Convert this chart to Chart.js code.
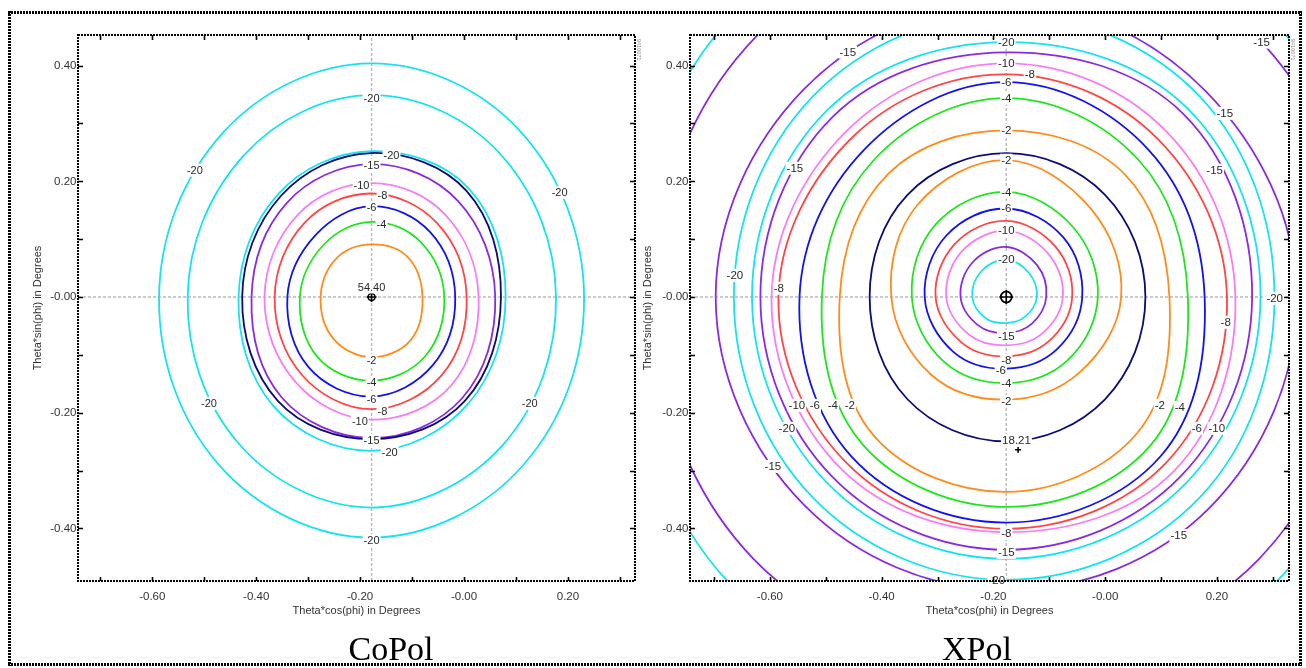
<!DOCTYPE html>
<html lang="en">
<head>
<meta charset="UTF-8">
<title>CoPol / XPol contours</title>
<script src="https://cdn.jsdelivr.net/npm/chart.js"></script>
<style>
  html, body { margin: 0; padding: 0; background: #fff; overflow: hidden; }
  #wrap { position: relative; width: 1306px; height: 668px; }
  canvas { position: absolute; left: 0; top: 0; }
  .edge { position: absolute; }
  .h { height: 3px; background: repeating-linear-gradient(90deg, #000 0 2px, transparent 2px 3px); }
  .v { width: 3px; background: repeating-linear-gradient(180deg, #000 0 2px, transparent 2px 3px); }
  .cap { position: absolute; top: 632px; line-height: 34px; font-family: 'Liberation Serif', 'Times New Roman', serif;
         font-size: 34px; color: #000; transform: translateX(-50%); white-space: nowrap; }
</style>
</head>
<body>
<div id="wrap">
  <div class="edge h" style="left:8px;top:11px;width:1294px"></div>
  <div class="edge h" style="left:8px;top:663px;width:1294px"></div>
  <div class="edge v" style="left:8px;top:11px;height:655px"></div>
  <div class="edge v" style="left:1299px;top:11px;height:655px"></div>
  <canvas id="co" width="1306" height="668"></canvas>
  <canvas id="xp" width="1306" height="668"></canvas>
  <div class="cap" style="left:391px">CoPol</div>
  <div class="cap" style="left:977px">XPol</div>
</div>
<script>
  const FONT = "'Liberation Sans', Arial, sans-serif";

  // axes
  const xMin = -0.743, xMax = 0.329, yMin = -0.491, yMax = 0.453;
  const xTicks = [-0.7, -0.6, -0.5, -0.4, -0.3, -0.2, -0.1, 0, 0.1, 0.2, 0.3];
  const xTickLabels = [-0.6, -0.4, -0.2, 0, 0.2];
  const yTicks = [-0.4, -0.3, -0.2, -0.1, 0, 0.1, 0.2, 0.3, 0.4];
  const yTickLabels = [-0.4, -0.2, 0, 0.2, 0.4];
  const plotTag = '9410071';

  // contour radii (deg) read at these directions around the beam centre
  const angles = [0, 45, 90, 135, 180, 225, 270, 315];

  // CoPol
  const coCenter = [-0.178, 0];
  const coM20a = [0.409, 0.405, 0.404, 0.403, 0.409, 0.413, 0.416, 0.412];
  const coM20b = [0.355, 0.35, 0.349, 0.347, 0.354, 0.36, 0.364, 0.3595];
  const coM20c = [0.258, 0.265, 0.252, 0.253, 0.256, 0.267, 0.266, 0.262];
  const coPk = [0.249, 0.259, 0.249, 0.247, 0.249, 0.2546, 0.2457, 0.254];
  const coM15 = [0.238, 0.235, 0.2296, 0.2304, 0.231, 0.245, 0.244, 0.247];
  const coM10 = [0.206, 0.201, 0.197, 0.201, 0.206, 0.2073, 0.212, 0.2165];
  const coM8 = [0.183, 0.1795, 0.179, 0.182, 0.1865, 0.19, 0.194, 0.191];
  const coM6 = [0.161, 0.159, 0.157, 0.152, 0.162, 0.1716, 0.172, 0.1667];
  const coM4 = [0.14, 0.134, 0.13, 0.129, 0.138, 0.147, 0.1447, 0.1455];
  const coM2 = [0.098, 0.098, 0.091, 0.095, 0.098, 0.103, 0.104, 0.106];
  const coPeak = 54.40;

  const coLabelX = [-0.178, -0.518, 0.184, -0.491, 0.1264, -0.1396, -0.178, -0.1973, -0.157, -0.178, -0.159,
                    -0.178, -0.178, -0.178, -0.157, -0.2006, -0.178, -0.143, -0.178];
  const coLabelY = [0.3438, 0.2192, 0.181, -0.1838, -0.1838, 0.2452, 0.2279, 0.1933, 0.176, 0.1547, 0.1258,
                    -0.1093, -0.1486, -0.1765, -0.1978, -0.2145, -0.2479, -0.2682, -0.4215];
  const coLabelText = ['-20', '-20', '-20', '-20', '-20', '-20', '-15', '-10', '-8', '-6', '-4',
                       '-2', '-4', '-6', '-8', '-10', '-15', '-20', '-20'];

  // XPol
  const xpCenter = [-0.177, 0];
  const xpM20i = [0.0547, 0.058, 0.0647, 0.063, 0.0608, 0.052, 0.045, 0.048];
  const xpM15i = [0.0716, 0.078, 0.0865, 0.085, 0.0818, 0.07, 0.0623, 0.065];
  const xpM10i = [0.1013, 0.106, 0.1142, 0.112, 0.1073, 0.093, 0.0836, 0.09];
  const xpM8i = [0.118, 0.124, 0.1315, 0.13, 0.1265, 0.112, 0.1026, 0.108];
  const xpM6i = [0.136, 0.145, 0.153, 0.151, 0.146, 0.134, 0.1239, 0.128];
  const xpM4i = [0.1639, 0.17, 0.1817, 0.178, 0.169, 0.158, 0.1488, 0.155];
  const xpM2i = [0.2057, 0.215, 0.2365, 0.225, 0.2057, 0.19, 0.1775, 0.185];
  const xpPk = [0.249, 0.25, 0.2486, 0.25, 0.2445, 0.25, 0.2497, 0.25];
  const xpM2o = [0.292, 0.3, 0.288, 0.3, 0.298, 0.337, 0.337, 0.332];
  const xpM4o = [0.325, 0.335, 0.344, 0.335, 0.33, 0.362, 0.363, 0.364];
  const xpM6o = [0.355, 0.36, 0.3715, 0.36, 0.37, 0.391, 0.39, 0.39];
  const xpM8o = [0.395, 0.385, 0.385, 0.39, 0.4077, 0.405, 0.4007, 0.405];
  const xpM10o = [0.41, 0.405, 0.404, 0.405, 0.42, 0.419, 0.4066, 0.425];
  const xpM15a = [0.44, 0.448, 0.423, 0.44, 0.44, 0.44, 0.437, 0.44];
  const xpM20a = [0.455, 0.46, 0.4407, 0.455, 0.455, 0.454, 0.4526, 0.455];
  const xpM20b = [0.48, 0.49, 0.49, 0.49, 0.4875, 0.49, 0.489, 0.49];
  const xpM15b = [0.52, 0.504, 0.51, 0.51, 0.52, 0.51, 0.507, 0.515];
  const xpM15c = [0.63, 0.635, 0.63, 0.635, 0.63, 0.64, 0.63, 0.64];
  const xpM20c = [0.67, 0.675, 0.67, 0.69, 0.67, 0.7, 0.67, 0.69];
  const xpPeakPos = [-0.1558, -0.264];

  const xpLabelX = [-0.177, -0.177, -0.1349, -0.177, -0.177, -0.177, -0.177, -0.177, -0.177, -0.177, -0.177,
                    -0.177, -0.177, -0.1868, -0.177, -0.177, -0.1587, -0.177, -0.177, -0.1939,
                    -0.5553, -0.6626, -0.5839, -0.5696, -0.5946, -0.5517, -0.5195, -0.4873, -0.4569,
                    0.0977, 0.1335, 0.1639, 0.1997, 0.2157, 0.3034, 0.196, 0.214, 0.2801, -0.4605, 0.1317];
  const xpLabelY = [0.4407, 0.404, 0.3853, 0.3715, 0.3438, 0.2884, 0.2365, 0.1811, 0.1535, 0.1154, 0.0652,
                    -0.068, -0.1095, -0.1268, -0.1493, -0.1805, -0.248, -0.4088, -0.4417, -0.4898,
                    0.2227, 0.0375, 0.015, -0.2272, -0.2929, -0.1873, -0.1873, -0.1873, -0.1873,
                    -0.1873, -0.191, -0.2272, -0.2272, -0.0437, -0.0022, 0.2192, 0.3175, 0.4407, 0.4234, -0.4123];
  const xpLabelText = ['-20', '-10', '-8', '-6', '-4', '-2', '-2', '-4', '-6', '-10', '-20',
                       '-15', '-8', '-6', '-4', '-2', '18.21', '-8', '-15', '-20',
                       '-15', '-20', '-8', '-20', '-15', '-10', '-6', '-4', '-2',
                       '-2', '-4', '-6', '-10', '-8', '-20', '-15', '-15', '-15', '-15', '-15'];

  // styles
  const levelColor = {
    '-2': '#ff8c1a', '-4': '#1ee61e', '-6': '#1212f0', '-8': '#ff4545',
    '-10': '#f77ef2', '-15': '#8a2be2', '-20': '#16e3ef', 'pk': '#0b0b78'
  };

  function ring(center, radii, level) {
    const pts = radii.map((r, i) => {
      const a = angles[i] * Math.PI / 180;
      return { x: center[0] + r * Math.cos(a), y: center[1] + r * Math.sin(a) };
    });
    // wrap so the closing joint is smooth; first and last segments are hidden
    const data = [pts[pts.length - 1], ...pts, pts[0], pts[1]];
    const last = data.length - 1;
    return {
      data, showLine: true, borderColor: levelColor[level], borderWidth: 1.8,
      pointRadius: 0, tension: 0.37, order: 10,
      segment: { borderColor: c => (c.p0DataIndex === 0 || c.p1DataIndex === last) ? 'rgba(0,0,0,0)' : undefined }
    };
  }

  function crosshair(c) {
    const st = { showLine: true, borderColor: '#b9b9b9', borderWidth: 1.4, borderDash: [3, 2], pointRadius: 0, order: 90 };
    return [
      Object.assign({ data: [{ x: c[0], y: yMin }, { x: c[0], y: yMax }] }, st),
      Object.assign({ data: [{ x: xMin, y: c[1] }, { x: xMax, y: c[1] }] }, st)
    ];
  }

  function marker(pos, style, radius, width) {
    return { data: [{ x: pos[0], y: pos[1] }], showLine: false, pointStyle: style, pointRadius: radius,
             pointBorderColor: '#000', pointBackgroundColor: 'rgba(0,0,0,0)', pointBorderWidth: width, order: 0 };
  }

  const tickText = (v, list) => list.some(t => Math.abs(t - v) < 1e-6) ? (Math.abs(v) < 1e-6 ? '-0.00' : v.toFixed(2)) : '';

  const boxPlugin = {
    id: 'box',
    afterDraw(chart) {
      const { ctx, chartArea: a, scales: { x, y } } = chart;
      ctx.save();
      ctx.strokeStyle = '#000';
      ctx.lineWidth = 2;
      ctx.setLineDash([2, 1]);
      ctx.strokeRect(a.left, a.top, a.right - a.left, a.bottom - a.top);
      ctx.setLineDash([]);
      ctx.lineWidth = 1.6;
      ctx.beginPath();
      xTicks.forEach(v => {
        const p = Math.round(x.getPixelForValue(v)) + 0.5;
        ctx.moveTo(p, a.bottom); ctx.lineTo(p, a.bottom - 4);
        ctx.moveTo(p, a.top); ctx.lineTo(p, a.top + 5);
      });
      yTicks.forEach(v => {
        const p = Math.round(y.getPixelForValue(v)) + 0.5;
        ctx.moveTo(a.left, p); ctx.lineTo(a.left + 5, p);
        ctx.moveTo(a.right, p); ctx.lineTo(a.right - 5, p);
      });
      ctx.stroke();
      // small rotated plot id beside the top right corner
      ctx.translate(a.right + 4, a.top + 4);
      ctx.rotate(Math.PI / 2);
      ctx.font = '5.5px ' + FONT;
      ctx.fillStyle = '#8a8a8a';
      ctx.textBaseline = 'middle';
      ctx.fillText(plotTag, 0, 0);
      ctx.restore();
    }
  };

  function labelPlugin(xs, ys, texts, size) {
    return {
      id: 'clabels',
      afterDatasetsDraw(chart) {
        const { ctx, scales: { x, y } } = chart;
        ctx.save();
        ctx.font = size + 'px ' + FONT;
        ctx.textAlign = 'center';
        ctx.textBaseline = 'middle';
        texts.forEach((t, i) => {
          const px = x.getPixelForValue(xs[i]);
          const py = y.getPixelForValue(ys[i]);
          const w = ctx.measureText(t).width;
          ctx.fillStyle = '#fff';
          ctx.fillRect(px - w / 2 - 1, py - 6.5, w + 2, 13);
          ctx.fillStyle = '#2a2a2a';
          ctx.fillText(t, px, py + 0.5);
        });
        ctx.restore();
      }
    };
  }

  function makeChart(id, padding, yWidth, yTitlePad, datasets, labels) {
    return new Chart(document.getElementById(id), {
      type: 'scatter',
      data: { datasets },
      options: {
        responsive: false, animation: false, events: [],
        layout: { padding },
        plugins: { legend: { display: false }, tooltip: { enabled: false } },
        scales: {
          x: {
            type: 'linear', position: 'bottom', min: xMin, max: xMax,
            afterBuildTicks: s => { s.ticks = xTicks.map(v => ({ value: v })); },
            afterFit: s => { s.height = 44; },
            grid: { display: false, drawTicks: false }, border: { display: false },
            ticks: { autoSkip: false, maxRotation: 0, padding: 8.8, color: '#333',
                     font: { family: FONT, size: 11.5 }, callback: v => tickText(v, xTickLabels) },
            title: { display: true, text: 'Theta*cos(phi) in Degrees', color: '#333',
                     font: { family: FONT, size: 11 }, padding: { top: 0, bottom: 7.7 } }
          },
          y: {
            type: 'linear', position: 'left', min: yMin, max: yMax,
            afterBuildTicks: s => { s.ticks = yTicks.map(v => ({ value: v })); },
            afterFit: s => { s.width = yWidth; },
            grid: { display: false, drawTicks: false }, border: { display: false },
            ticks: { autoSkip: false, padding: 1.5, color: '#333',
                     font: { family: FONT, size: 11.5 }, callback: v => tickText(v, yTickLabels) },
            title: { display: true, text: 'Theta*sin(phi) in Degrees', color: '#333',
                     font: { family: FONT, size: 11 }, padding: { top: yTitlePad, bottom: 0 } }
          }
        }
      },
      plugins: [boxPlugin, labels]
    });
  }

  const coSets = [
    ...crosshair(coCenter),
    ring(coCenter, coM20a, '-20'), ring(coCenter, coM20b, '-20'), ring(coCenter, coM20c, '-20'),
    ring(coCenter, coPk, 'pk'), ring(coCenter, coM15, '-15'), ring(coCenter, coM10, '-10'),
    ring(coCenter, coM8, '-8'), ring(coCenter, coM6, '-6'), ring(coCenter, coM4, '-4'), ring(coCenter, coM2, '-2'),
    marker(coCenter, 'circle', 3.5, 1.6), marker(coCenter, 'cross', 5, 1.6)
  ];
  const coTexts = coLabelText.concat([coPeak.toFixed(2)]);
  makeChart('co', { left: 0, top: 35, right: 671, bottom: 43 }, 78, 30.9, coSets,
    labelPlugin(coLabelX.concat([coCenter[0]]), coLabelY.concat([0.0173]), coTexts, 11));

  const xpSets = [
    ...crosshair(xpCenter),
    ring(xpCenter, xpM20c, '-20'), ring(xpCenter, xpM15c, '-15'), ring(xpCenter, xpM15b, '-15'),
    ring(xpCenter, xpM20b, '-20'), ring(xpCenter, xpM20a, '-20'), ring(xpCenter, xpM15a, '-15'),
    ring(xpCenter, xpM10o, '-10'), ring(xpCenter, xpM8o, '-8'), ring(xpCenter, xpM6o, '-6'),
    ring(xpCenter, xpM4o, '-4'), ring(xpCenter, xpM2o, '-2'), ring(xpCenter, xpPk, 'pk'),
    ring(xpCenter, xpM2i, '-2'), ring(xpCenter, xpM4i, '-4'), ring(xpCenter, xpM6i, '-6'),
    ring(xpCenter, xpM8i, '-8'), ring(xpCenter, xpM10i, '-10'), ring(xpCenter, xpM15i, '-15'),
    ring(xpCenter, xpM20i, '-20'),
    marker(xpCenter, 'circle', 5.5, 1.8), marker(xpCenter, 'cross', 7, 1.6),
    marker(xpPeakPos, 'cross', 3, 1.6)
  ];
  makeChart('xp', { left: 600, top: 35, right: 17, bottom: 43 }, 90, 41.4, xpSets,
    labelPlugin(xpLabelX, xpLabelY, xpLabelText, 11.5));
</script>
</body>
</html>
